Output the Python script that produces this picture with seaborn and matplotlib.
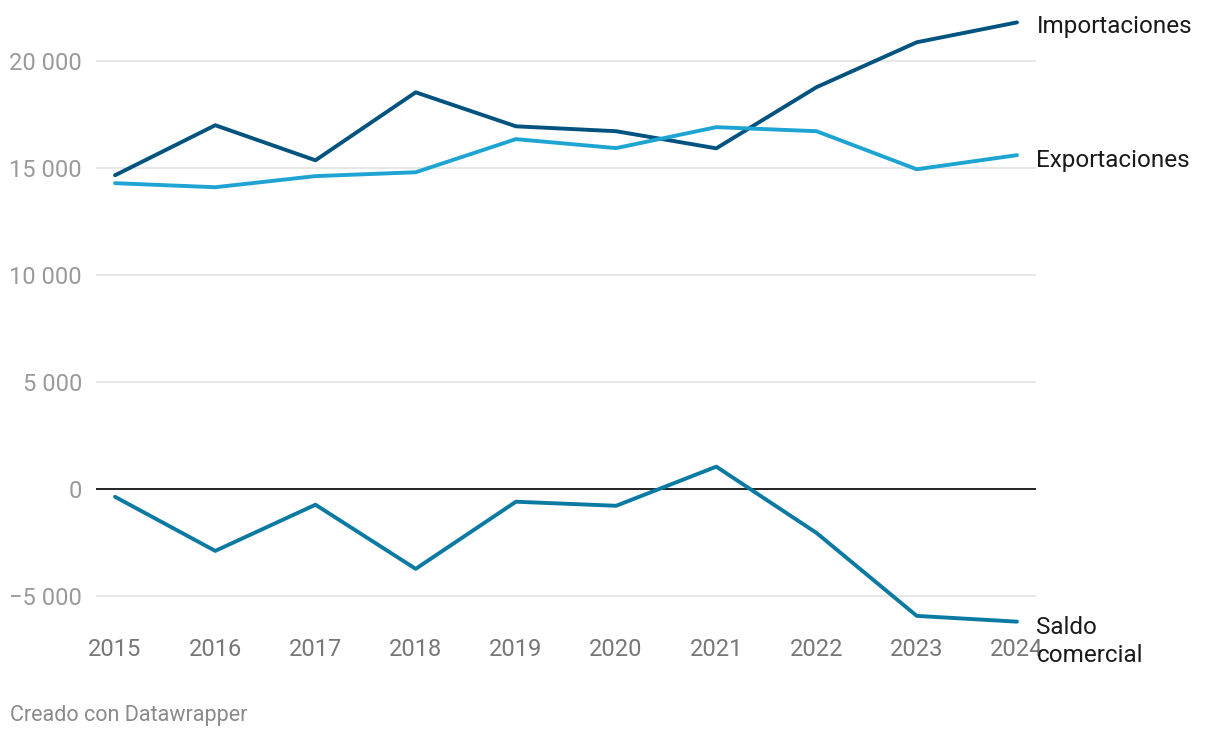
import pandas as pd
import numpy as np
import matplotlib.pyplot as plt
import seaborn as sns

years = [2015, 2016, 2017, 2018, 2019, 2020, 2021, 2022, 2023, 2024]
importaciones = [14670, 17010, 15370, 18550, 16960, 16730, 15930, 18790, 20890, 21820]
exportaciones = [14300, 14110, 14630, 14810, 16360, 15940, 16920, 16730, 14950, 15610]
saldo = [-370, -2900, -740, -3740, -600, -790, 1040, -2060, -5940, -6210]

series_names = ["Importaciones", "Exportaciones", "Saldo comercial"]
series_labels = ["Importaciones", "Exportaciones", "Saldo\ncomercial"]
colors = ["#00537f", "#1ea4d3", "#0a7aa3"]
y_ticks = [-5000, 0, 5000, 10000, 15000, 20000]

df = pd.DataFrame({
    "year": years * 3,
    "valor": importaciones + exportaciones + saldo,
    "serie": [s for s in series_names for _ in years],
})

sns.set_style("white")
plt.rcParams["font.family"] = ["Roboto", "DejaVu Sans"]

fig = plt.figure(figsize=(12.2, 7.38), dpi=100)
ax = fig.add_axes([96 / 1220, 108 / 738, 940 / 1220, 620 / 738])

for y in y_ticks:
    if y == 0:
        ax.axhline(0, color="#111111", lw=1.3, zorder=1)
    else:
        ax.axhline(y, color="#e3e3e3", lw=1.2, zorder=0)

sns.lineplot(data=df, x="year", y="valor", hue="serie", palette=colors,
             hue_order=series_names, linewidth=2.8, legend=False, ax=ax,
             zorder=3, solid_capstyle="round")

ax.set_xlim(2015 - 0.19, 2024 + 0.19)
ax.set_ylim(-6600, 22400)
ax.set_xticks(years)
ax.set_xticklabels([str(y) for y in years])
ax.set_yticks(y_ticks)
ax.set_yticklabels([f"{y:,}".replace(",", " ").replace("-", "\u2212") for y in y_ticks])
ax.tick_params(axis="y", length=0, pad=10, labelsize=17, labelcolor="#9a9a9a")
ax.tick_params(axis="x", length=0, pad=6, labelsize=17, labelcolor="#777777")
ax.set_xlabel("")
ax.set_ylabel("")
for sp in ax.spines.values():
    sp.set_visible(False)

ends = [importaciones[-1], exportaciones[-1], saldo[-1]]
offsets = [(14, -3), (14, -4), (14, 4)]
vas = ["center", "center", "top"]
for lab, v, off, va in zip(series_labels, ends, offsets, vas):
    ax.annotate(lab, xy=(years[-1], v), xytext=off, textcoords="offset points",
                ha="left", va=va, fontsize=17.5, color="#1a1a1a",
                annotation_clip=False, linespacing=1.25)

fig.text(10 / 1220, 1 - 715 / 738, "Creado con Datawrapper", ha="left",
         va="center", fontsize=15.5, color="#8a8a8a")

fig.savefig("out.png", dpi=100)
